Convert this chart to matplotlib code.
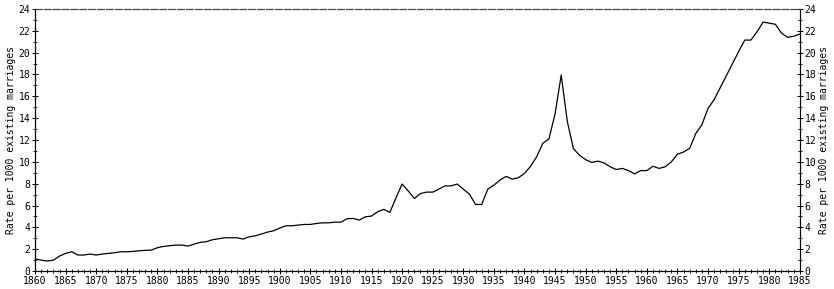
import matplotlib.pyplot as plt
import numpy as np
from matplotlib.ticker import MultipleLocator

years = np.arange(1860, 1986)
# divorce rate per 1000 existing marriages
rate = [
    1.13, 1.0, 0.92, 1.0, 1.37, 1.62, 1.77, 1.47, 1.47, 1.56,   # 1860s
    1.47, 1.56, 1.62, 1.68, 1.77, 1.77, 1.8, 1.86, 1.9, 1.92,   # 1870s
    2.14, 2.26, 2.32, 2.38, 2.38, 2.29, 2.47, 2.63, 2.69, 2.87, # 1880s
    2.96, 3.05, 3.05, 3.05, 2.93, 3.14, 3.23, 3.39, 3.57, 3.69, # 1890s
    3.94, 4.15, 4.15, 4.21, 4.27, 4.27, 4.36, 4.42, 4.42, 4.48, # 1900s
    4.48, 4.79, 4.82, 4.67, 4.97, 5.04, 5.43, 5.65, 5.38, 6.71, # 1910s
    7.97, 7.33, 6.65, 7.1, 7.23, 7.23, 7.5, 7.8, 7.8, 7.97,     # 1920s
    7.5, 7.05, 6.1, 6.1, 7.5, 7.87, 8.33, 8.67, 8.42, 8.55,     # 1930s
    8.94, 9.6, 10.47, 11.7, 12.1, 14.4, 17.95, 13.7, 11.2, 10.6, # 1940s
    10.2, 9.95, 10.07, 9.9, 9.55, 9.3, 9.4, 9.2, 8.9, 9.2,      # 1950s
    9.2, 9.6, 9.4, 9.55, 10.0, 10.7, 10.9, 11.24, 12.6, 13.4,   # 1960s
    14.9, 15.7, 16.8, 17.9, 19.0, 20.1, 21.15, 21.15, 21.9, 22.8, # 1970s
    22.7, 22.6, 21.8, 21.4, 21.5, 21.7,                          # 1980-85
]

plt.rcParams['font.family'] = 'DejaVu Sans Mono'
plt.rcParams['font.size'] = 7

fig = plt.figure(figsize=(8.34, 2.89), dpi=100)
ax = fig.add_axes([0.042, 0.062, 0.917, 0.907])
ax.plot(years, rate, color='black', linewidth=0.9)

ax.set_xlim(1860, 1985)
ax.set_ylim(0, 24)
ax.xaxis.set_major_locator(MultipleLocator(5))
ax.xaxis.set_minor_locator(MultipleLocator(1))
ax.yaxis.set_major_locator(MultipleLocator(2))
ax.yaxis.set_minor_locator(MultipleLocator(1))
ax.tick_params(which='major', direction='inout', length=5, width=0.7, pad=1)
ax.tick_params(which='minor', direction='inout', length=3, width=0.6)
ax.set_ylabel('Rate per 1000 existing marriages', labelpad=2)

ax2 = ax.twinx()
ax2.set_ylim(0, 24)
ax2.yaxis.set_major_locator(MultipleLocator(2))
ax2.yaxis.set_minor_locator(MultipleLocator(1))
ax2.tick_params(which='major', direction='inout', length=5, width=0.7, pad=1)
ax2.tick_params(which='minor', direction='inout', length=3, width=0.6)
ax2.set_ylabel('Rate per 1000 existing marriages', labelpad=2)

for a in (ax, ax2):
    a.spines['top'].set_linestyle((0, (6, 2)))
    a.spines['top'].set_color('#444444')
    a.spines['top'].set_linewidth(0.8)

fig.savefig('out.png', dpi=100)
